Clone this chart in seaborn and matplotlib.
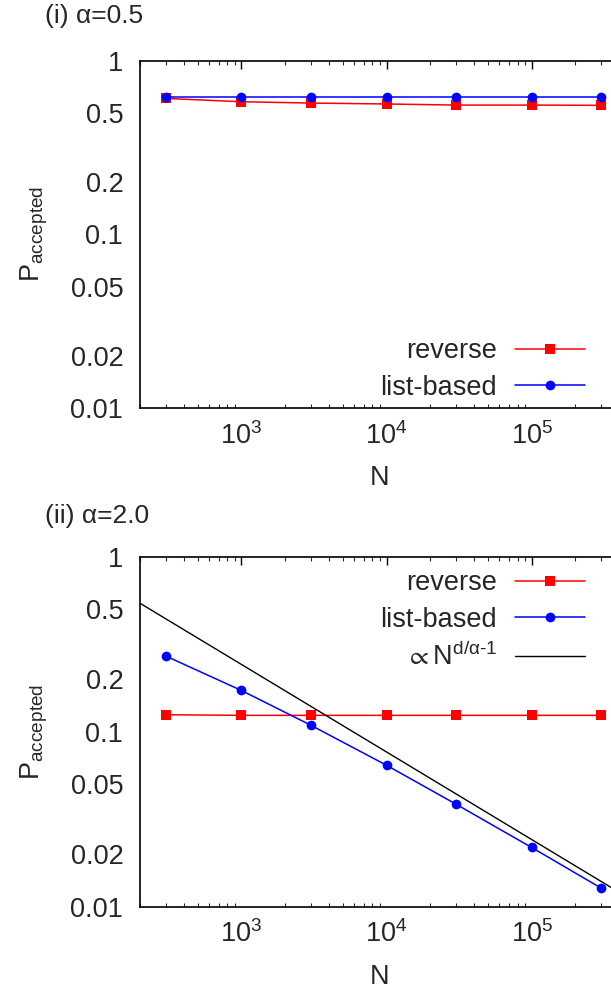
import matplotlib
matplotlib.use("Agg")
import matplotlib.pyplot as plt
import matplotlib.ticker as mticker
import numpy as np
import pandas as pd
import seaborn as sns

# data
N = [300, 1000, 3000, 10000, 30000, 100000, 300000]
rev_a05 = [0.605, 0.579, 0.569, 0.562, 0.554, 0.554, 0.552]
list_a05 = [0.619, 0.619, 0.619, 0.619, 0.619, 0.619, 0.619]
rev_a20 = [0.125, 0.124, 0.124, 0.124, 0.124, 0.124, 0.124]
list_a20 = [0.271, 0.172, 0.109, 0.0643, 0.0386, 0.0218, 0.0128]
guide_N = [200, 400000]
guide_P = [0.542, 0.0121]

panel_titles = ["(i) α=0.5", "(ii) α=2.0"]
ytick_vals = [0.01, 0.02, 0.05, 0.1, 0.2, 0.5, 1]
ytick_labels = ["0.01", "0.02", "0.05", "0.1", "0.2", "0.5", "1"]
xtick_vals = [1e3, 1e4, 1e5]
xtick_labels = [r"$10^{3}$", r"$10^{4}$", r"$10^{5}$"]

sns.set_style("white")
plt.rcParams["font.family"] = ["Liberation Sans", "DejaVu Sans"]
plt.rcParams["mathtext.fontset"] = "custom"
plt.rcParams["mathtext.rm"] = "Liberation Sans"
plt.rcParams["mathtext.it"] = "Liberation Sans"
plt.rcParams["mathtext.bf"] = "Liberation Sans:bold"
plt.rcParams["mathtext.fallback"] = "stixsans"
FS = 19.5

fig = plt.figure(figsize=(6.11, 9.89), dpi=100)
W, H = 611, 989
# axes run past the right edge of the figure, as in the reference
ax1 = fig.add_axes([140 / W, 1 - 408 / H, 479 / W, 347.5 / H])
ax2 = fig.add_axes([140 / W, 1 - 906.7 / H, 479 / W, 350 / H])

df1 = pd.DataFrame({"N": N, "reverse": rev_a05, "list-based": list_a05})
df2 = pd.DataFrame({"N": N, "reverse": rev_a20, "list-based": list_a20})

for ax, df in [(ax1, df1), (ax2, df2)]:
    sns.lineplot(data=df, x="N", y="reverse", ax=ax, color="#ff0000", marker="s",
                 markersize=6.5, markeredgewidth=0, linewidth=1.1, label="reverse")
    sns.lineplot(data=df, x="N", y="list-based", ax=ax, color="#0000ff", marker="o",
                 markersize=7, markeredgewidth=0, linewidth=1.1, label="list-based")

sns.lineplot(x=guide_N, y=guide_P, ax=ax2, color="black", linewidth=1.0,
             label=r"$\propto\mathrm{N}^{\mathrm{d/α\text{-}1}}$")

for ax, loc in [(ax1, "lower right"), (ax2, "upper right")]:
    ax.set_xscale("log")
    ax.set_yscale("log")
    ax.set_xlim(200, 400000)
    ax.set_ylim(0.01, 1)
    ax.yaxis.set_minor_locator(mticker.NullLocator())
    ax.set_yticks(ytick_vals)
    ax.set_yticklabels(ytick_labels)
    ax.set_xticks(xtick_vals)
    ax.set_xticklabels(xtick_labels)
    ax.xaxis.set_minor_locator(mticker.LogLocator(base=10, subs=np.arange(2, 10)))
    ax.xaxis.set_minor_formatter(mticker.NullFormatter())
    ax.tick_params(axis="both", which="major", direction="in", length=6, width=1,
                   labelsize=FS, top=True, right=True, color="black")
    ax.tick_params(axis="x", which="major", pad=10)
    ax.tick_params(axis="y", which="major", pad=12)
    ax.tick_params(axis="x", which="minor", direction="in", length=3, width=0.8,
                   top=True, bottom=True)
    for s in ax.spines.values():
        s.set_color("black")
        s.set_linewidth(1.2)
    ax.set_xlabel("N", fontsize=FS)
    ax.set_ylabel(r"$\mathrm{P}_{\mathrm{accepted}}$", fontsize=FS)
    ax.xaxis.set_label_coords(0.5, -0.165)
    ax.yaxis.set_label_coords(-0.188, 0.5)
    ax.grid(False)
    ax.set_facecolor("white")
    ax.legend(loc=loc, bbox_to_anchor=(0.929, 0.021 if loc == "lower right" else 0.961),
              frameon=False, markerfirst=False, fontsize=FS, handlelength=2.6,
              handletextpad=0.65, labelspacing=0.38, borderpad=0, borderaxespad=0)

fig.text(45 / W, 1 - 16 / H, panel_titles[0], fontsize=19, ha="left", va="center")
fig.text(45 / W, 1 - 516 / H, panel_titles[1], fontsize=19, ha="left", va="center")

fig.savefig("out.png", dpi=100, facecolor="white")
